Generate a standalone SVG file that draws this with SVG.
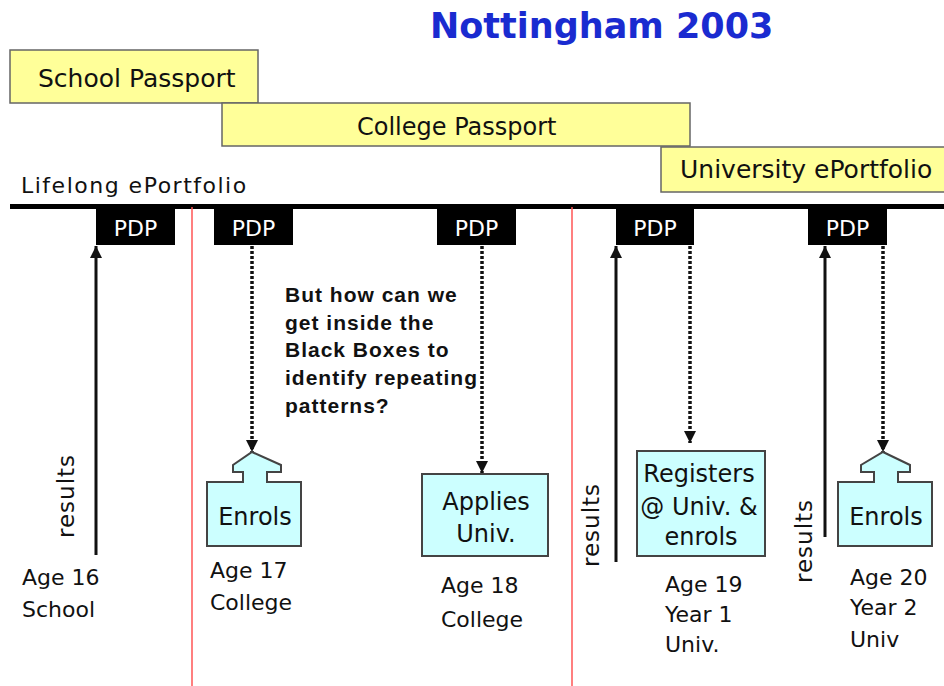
<svg xmlns="http://www.w3.org/2000/svg" width="944" height="686" viewBox="0 0 944 686">
<defs>
<style>
.hand{font-family:"Comic Sans MS","DejaVu Sans",sans-serif;fill:#111;}
.band{fill:#ffff99;stroke:#666;stroke-width:1.5;}
.box{fill:#ccffff;stroke:#444;stroke-width:2;}
.pdp{fill:#000;}
.pdpt{font-family:"Comic Sans MS","DejaVu Sans",sans-serif;fill:#fff;font-size:22px;text-anchor:middle;}
.red{stroke:#ff5555;stroke-width:1.5;}
.solid{stroke:#111;stroke-width:3;fill:none;}
.dot{stroke:#111;stroke-width:3.5;fill:none;stroke-dasharray:3 2;}
.q{font-family:"Liberation Sans",Arial,sans-serif;font-weight:bold;font-size:21px;fill:#111;letter-spacing:1px;}
.bt{font-size:24px;text-anchor:middle;}
.res{font-size:23px;text-anchor:middle;letter-spacing:1px;}
</style>
<marker id="ah" markerWidth="12" markerHeight="12" refX="12" refY="6" orient="auto" markerUnits="userSpaceOnUse" viewBox="0 0 12 12">
<path d="M0,0 L12,6 L0,12 Z" fill="#111"/>
</marker>
</defs>
<rect width="944" height="686" fill="#fff"/>
<text x="430" y="38" font-family="'Comic Sans MS','DejaVu Sans',sans-serif" font-weight="bold" font-size="35" fill="#1a2bd0">Nottingham 2003</text>

<g id="school-passport"><rect class="band" x="10" y="50" width="248" height="53"/><text class="hand" x="38" y="87" font-size="25">School Passport</text></g>
<g id="college-passport"><rect class="band" x="222" y="103" width="468" height="43"/><text class="hand" x="357" y="135" font-size="24">College Passport</text></g>
<g id="university-eportfolio"><rect class="band" x="661" y="147" width="290" height="45"/><text class="hand" x="680" y="178" font-size="25">University ePortfolio</text></g>

<g id="timeline">
<text class="hand" x="21" y="193" font-size="22" letter-spacing="1.5">Lifelong ePortfolio</text>
<rect x="10" y="204" width="934" height="5" fill="#000"/>
<line class="red" x1="192" y1="207" x2="192" y2="686"/>
<line class="red" x1="572" y1="207" x2="572" y2="686"/>
</g>

<g id="pdp1"><rect class="pdp" x="96" y="205" width="79" height="40"/><text class="pdpt" x="135.5" y="236">PDP</text></g>
<g id="pdp2"><rect class="pdp" x="214" y="205" width="79" height="40"/><text class="pdpt" x="253.5" y="236">PDP</text></g>
<g id="pdp3"><rect class="pdp" x="437" y="205" width="79" height="40"/><text class="pdpt" x="476.5" y="236">PDP</text></g>
<g id="pdp4"><rect class="pdp" x="616" y="205" width="78" height="40"/><text class="pdpt" x="655" y="236">PDP</text></g>
<g id="pdp5"><rect class="pdp" x="808" y="205" width="79" height="40"/><text class="pdpt" x="847.5" y="236">PDP</text></g>

<g id="connectors">
<line class="solid" x1="96" y1="555" x2="96" y2="246" marker-end="url(#ah)"/>
<line class="solid" x1="616" y1="562" x2="616" y2="246" marker-end="url(#ah)"/>
<line class="solid" x1="825" y1="537" x2="825" y2="246" marker-end="url(#ah)"/>
<line class="dot" x1="252" y1="246" x2="252" y2="452" marker-end="url(#ah)"/>
<line class="dot" x1="482" y1="246" x2="482" y2="473" marker-end="url(#ah)"/>
<line class="dot" x1="690" y1="246" x2="690" y2="443" marker-end="url(#ah)"/>
<line class="dot" x1="883" y1="246" x2="883" y2="452" marker-end="url(#ah)"/>
</g>

<g id="enrols-college">
<path class="box" d="M252,452 L281,465 L281,472 L267,472 L267,482 L301,482 L301,546 L207,546 L207,482 L243,482 L243,472 L233,472 L233,465 Z"/>
<text class="hand bt" x="255" y="525">Enrols</text>
</g>
<g id="applies-univ">
<rect class="box" x="422" y="474" width="126" height="82"/>
<text class="hand bt" x="486" y="510">Applies</text>
<text class="hand bt" x="486" y="542">Univ.</text>
</g>
<g id="registers-univ">
<rect class="box" x="637" y="451" width="128" height="105"/>
<text class="hand bt" x="699" y="482">Registers</text>
<text class="hand bt" x="699" y="515">@ Univ. &amp;</text>
<text class="hand bt" x="701" y="545">enrols</text>
</g>
<g id="enrols-univ">
<path class="box" d="M883,452 L910,465 L910,472 L898,472 L898,482 L932,482 L932,546 L838,546 L838,482 L874,482 L874,472 L861,472 L861,465 Z"/>
<text class="hand bt" x="886" y="525">Enrols</text>
</g>

<g id="results-labels">
<text class="hand res" transform="translate(74,496) rotate(-90)">results</text>
<text class="hand res" transform="translate(599,525) rotate(-90)">results</text>
<text class="hand res" transform="translate(812,541) rotate(-90)">results</text>
</g>

<g id="age-labels">
<text class="hand" font-size="22"><tspan x="22" y="585">Age 16</tspan><tspan x="22" y="617">School</tspan></text>
<text class="hand" font-size="22"><tspan x="210" y="578">Age 17</tspan><tspan x="210" y="610">College</tspan></text>
<text class="hand" font-size="22"><tspan x="441" y="593">Age 18</tspan><tspan x="441" y="627">College</tspan></text>
<text class="hand" font-size="22"><tspan x="665" y="592">Age 19</tspan><tspan x="665" y="622">Year 1</tspan><tspan x="665" y="652">Univ.</tspan></text>
<text class="hand" font-size="22"><tspan x="850" y="585">Age 20</tspan><tspan x="850" y="615">Year 2</tspan><tspan x="850" y="647">Univ</tspan></text>
</g>

<g id="question">
<text class="q"><tspan x="285" y="302">But how can we</tspan><tspan x="285" y="330">get inside the</tspan><tspan x="285" y="357">Black Boxes to</tspan><tspan x="285" y="385">identify repeating</tspan><tspan x="285" y="413">patterns?</tspan></text>
</g>
</svg>
